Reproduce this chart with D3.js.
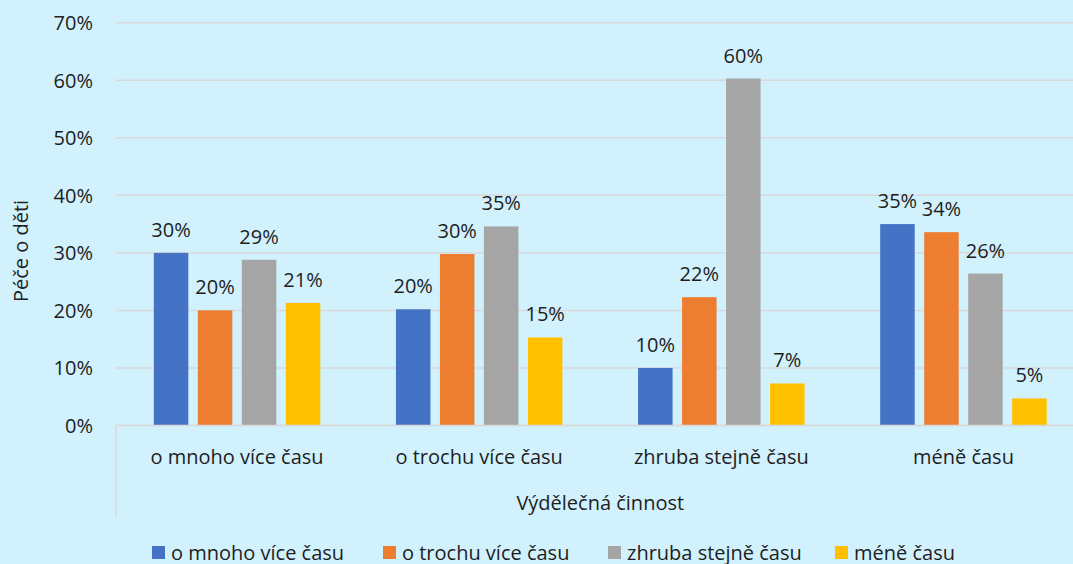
<!DOCTYPE html>
<html>
<head>
<meta charset="utf-8">
<script src="https://cdn.jsdelivr.net/npm/d3@7"></script>
<style>
  html, body { margin: 0; padding: 0; background: #d1f1fd; }
  svg { display: block; }
  text { font-family: "Open Sans", "Noto Sans", sans-serif; fill: #1e1e1e; }
</style>
</head>
<body>
<svg id="chart" width="1073" height="564"></svg>
<script>
// Categories on the x axis (Výdělečná činnost)
const categories = ["o mnoho více času", "o trochu více času", "zhruba stejně času", "méně času"];
// Series (Péče o děti)
const seriesNames = ["o mnoho více času", "o trochu více času", "zhruba stejně času", "méně času"];
const seriesColors = ["#4472c4", "#ed7d31", "#a5a5a5", "#ffc000"];
// Shares per series, one value per category
const sMnohoVice  = [0.300, 0.202, 0.100, 0.350];
const sTrochuVice = [0.200, 0.298, 0.223, 0.336];
const sStejne     = [0.288, 0.346, 0.603, 0.264];
const sMene       = [0.213, 0.153, 0.073, 0.047];
const seriesValues = [sMnohoVice, sTrochuVice, sStejne, sMene];
const yTicks = [0, 0.1, 0.2, 0.3, 0.4, 0.5, 0.6, 0.7];
const yTitle = "Péče o děti";
const xTitle = "Výdělečná činnost";

const svg = d3.select("#chart");
const W = 1073, H = 564;
const plot = { left: 116, right: 1084.5, top: 22.7, bottom: 425.5 };

const y = d3.scaleLinear().domain([0, 0.7]).range([plot.bottom, plot.top]);
const x0 = d3.scaleBand().domain(categories).range([plot.left, plot.right]).padding(0);
const x1 = d3.scaleBand().domain(d3.range(seriesNames.length))
  .range([0, x0.bandwidth()]).paddingInner(0.216).paddingOuter(0.86);
const pct = d3.format(".0%");

// Horizontal gridlines
svg.append("g").selectAll("line").data(yTicks).join("line")
  .attr("x1", plot.left).attr("x2", W)
  .attr("y1", d => y(d)).attr("y2", d => y(d))
  .attr("stroke", "#d9d9d9").attr("stroke-width", 1.5);

// Left boundary of the category axis box
svg.append("line")
  .attr("x1", plot.left).attr("x2", plot.left)
  .attr("y1", plot.bottom).attr("y2", 517)
  .attr("stroke", "#d9d9d9").attr("stroke-width", 1.5);

// Y axis tick labels
const yAxis = d3.axisLeft(y).tickValues(yTicks).tickFormat(pct).tickSize(0).tickPadding(0);
const yG = svg.append("g").attr("transform", "translate(93,0)").call(yAxis);
yG.select(".domain").remove();
yG.selectAll("text").attr("font-size", 20).attr("fill", "#1e1e1e")
  .attr("font-family", "'Open Sans', sans-serif").attr("dy", "0.35em");

// Bars
const groups = svg.append("g").selectAll("g").data(categories).join("g")
  .attr("transform", d => `translate(${x0(d)},0)`);

groups.each(function (cat, ci) {
  const g = d3.select(this);
  const rows = seriesValues.map((vals, si) => ({ si, v: vals[ci] }));
  g.selectAll("rect").data(rows).join("rect")
    .attr("x", d => x1(d.si))
    .attr("width", x1.bandwidth())
    .attr("y", d => y(d.v))
    .attr("height", d => y(0) - y(d.v))
    .attr("fill", d => seriesColors[d.si]);
  g.selectAll("text").data(rows).join("text")
    .attr("x", d => x1(d.si) + x1.bandwidth() / 2)
    .attr("y", d => y(d.v) - 23)
    .attr("dy", "0.35em")
    .attr("text-anchor", "middle")
    .attr("font-size", 20)
    .text(d => pct(d.v));
});

// Axis line at 0%
svg.append("line")
  .attr("x1", plot.left).attr("x2", W)
  .attr("y1", y(0)).attr("y2", y(0))
  .attr("stroke", "#d9d9d9").attr("stroke-width", 1.5);

// Category labels
svg.append("g").selectAll("text").data(categories).join("text")
  .attr("x", d => x0(d) + x0.bandwidth() / 2)
  .attr("y", 457).attr("dy", "0.35em")
  .attr("text-anchor", "middle").attr("font-size", 20)
  .text(d => d);

// Axis titles
svg.append("text")
  .attr("x", (plot.left + plot.right) / 2).attr("y", 503).attr("dy", "0.35em")
  .attr("text-anchor", "middle").attr("font-size", 20)
  .text(xTitle);

svg.append("text")
  .attr("transform", "translate(28,251) rotate(-90)")
  .attr("text-anchor", "middle").attr("font-size", 20)
  .text(yTitle);

// Legend
const legendX = [152, 383, 608, 835];
const legend = svg.append("g").selectAll("g").data(seriesNames).join("g")
  .attr("transform", (d, i) => `translate(${legendX[i]},553)`);
legend.append("rect")
  .attr("x", 0).attr("y", -7).attr("width", 13).attr("height", 13)
  .attr("fill", (d, i) => seriesColors[i]);
legend.append("text")
  .attr("x", 19).attr("dy", "0.35em").attr("font-size", 20)
  .text(d => d);
</script>
</body>
</html>
